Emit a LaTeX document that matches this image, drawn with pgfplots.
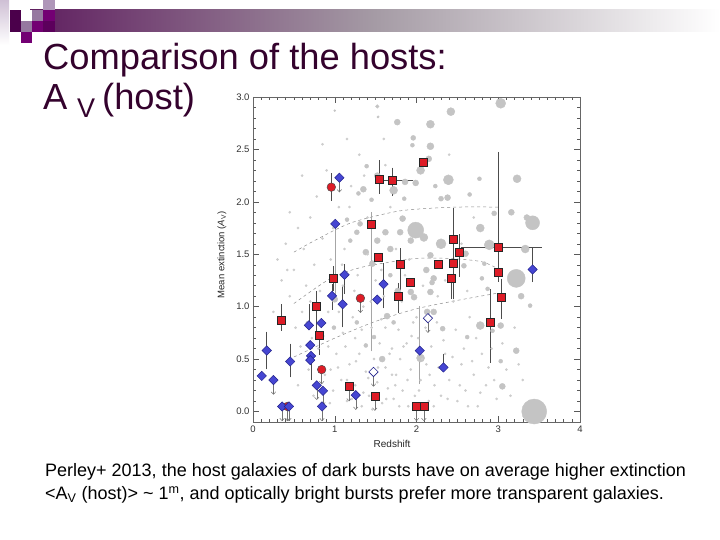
\documentclass[border=0pt]{standalone}
\usepackage{pgfplots}
\usepackage{pgfplotstable}
\pgfplotsset{compat=1.18}
\usepackage{fontspec}
\setmainfont{Liberation Sans}
\usetikzlibrary{arrows.meta}
\definecolor{titlecol}{RGB}{52,2,45}
\definecolor{redfill}{RGB}{222,28,38}
\definecolor{bluefill}{RGB}{70,70,210}
\definecolor{blueedge}{RGB}{35,35,140}
\definecolor{blobgray}{RGB}{196,196,196}
\definecolor{dotgray}{RGB}{205,205,205}
\definecolor{sqA}{RGB}{75,0,75}
\definecolor{sqB}{RGB}{150,120,160}
\definecolor{sqC}{RGB}{115,0,115}
\definecolor{sqD}{RGB}{175,150,185}
\definecolor{sqE}{RGB}{92,0,92}
\definecolor{barL}{RGB}{95,30,95}
\definecolor{barM}{RGB}{165,155,165}

\pgfplotstableread{
x y r
3.44 0.00 12.5
3.22 1.27 9
1.99 1.73 8
3.42 1.80 7
3.03 2.94 5
2.39 2.21 5
2.30 1.60 5
2.89 1.59 5
2.42 2.86 4
2.17 2.74 4
2.05 2.30 4
3.23 2.22 4
1.72 2.11 4
2.78 1.75 4
3.33 1.55 4
2.09 1.66 4
2.78 0.82 4
2.05 0.51 4
2.17 2.53 3.5
1.765 2.76 3
2.15 2.41 3
1.86 2.19 3
1.99 2.18 3
1.35 2.12 3
1.52 2.25 3
2.38 2.04 3
3.16 1.90 3
3.35 1.85 3
1.80 1.71 3
1.83 1.84 3
1.62 1.71 3
1.38 1.52 3
1.46 1.41 3
1.52 1.63 3
1.68 1.55 3
1.93 1.63 3
2.60 1.505 3
3.28 1.10 3
2.17 1.49 3
2.12 1.35 3
2.17 1.14 3
2.21 1.27 3
1.77 1.15 3
1.93 1.14 3
1.58 0.50 3
3.22 0.58 3
3.05 0.24 3
1.64 0.91 3
1.00 1.07 3
1.97 1.09 3
2.21 0.95 3
2.13 0.95 3
3.03 0.82 3
1.96 2.61 2.5
1.95 2.54 2
1.39 2.34 2
1.29 2.08 2
1.45 2.02 2
2.77 2.22 2
2.65 2.07 2
2.23 2.15 2
2.30 2.03 2.5
2.95 1.89 2.5
2.83 1.41 2
2.80 1.27 2
2.87 1.17 2
3.39 1.01 2
2.19 1.23 2.5
1.27 1.71 2.5
1.19 1.63 2
1.15 1.83 2
1.31 1.79 2.5
1.85 2.03 2
1.68 1.30 2
2.58 1.39 2.5
2.32 0.79 2.5
2.62 0.71 2
3.03 0.48 2
2.93 0.77 2
0.99 0.80 2
1.27 0.85 2
1.72 0.85 2
1.48 0.71 2
1.38 0.63 2
1.52 2.91 1.8
1.53 2.81 1.2
1.00 2.87 1.0
}\blobtab

\pgfplotstableread{
x y
0.30 1.45
0.35 1.25
0.40 1.60
0.45 1.10
0.50 1.35
0.55 1.75
0.60 0.95
0.62 1.55
0.65 1.20
0.70 1.85
0.72 0.70
0.75 1.40
0.78 2.05
0.80 0.60
0.82 1.15
0.85 1.65
0.88 0.35
0.90 2.30
0.92 0.95
0.95 1.45
0.98 0.20
1.02 0.55
1.05 1.95
1.08 0.30
1.10 0.75
1.12 1.55
1.15 0.10
1.18 0.45
1.20 2.15
1.22 0.90
1.25 0.25
1.28 1.30
1.30 0.55
1.33 0.05
1.35 1.00
1.38 0.38
1.40 1.85
1.42 0.15
1.45 0.80
1.48 0.50
1.50 1.25
1.52 0.28
1.55 0.65
1.58 0.08
1.60 1.10
1.62 0.42
1.65 0.22
1.68 1.95
1.70 0.60
1.72 0.12
1.75 0.35
1.78 0.78
1.80 0.50
1.83 0.20
1.86 1.30
1.88 0.65
1.90 0.05
1.93 0.40
1.96 0.85
1.98 0.15
2.02 0.70
2.05 0.30
2.08 1.20
2.12 0.45
2.15 0.10
2.18 0.62
2.22 0.25
2.25 0.85
2.30 0.15
2.35 0.55
2.40 0.30
2.45 1.05
2.50 0.10
2.55 0.45
2.60 0.20
2.65 0.90
2.70 0.35
2.75 0.05
2.80 0.55
2.85 0.25
2.92 0.60
2.98 0.12
3.10 0.40
3.20 0.80
3.30 0.30
1.10 1.20
0.68 0.40
0.55 0.25
0.92 0.62
1.40 1.50
1.75 1.55
2.35 1.25
2.55 1.60
2.70 1.85
2.40 2.45
1.60 2.60
1.30 2.45
0.60 2.25
0.45 1.90
0.25 0.95
0.85 2.55
1.15 2.60
1.05 0.95
1.25 0.70
1.62 0.80
2.00 0.90
1.35 0.18
1.70 0.35
0.95 0.40
1.15 0.30
0.58 0.62
0.66 0.85
0.74 0.15
0.86 0.72
0.94 0.08
1.04 0.42
1.13 0.62
1.21 0.12
1.26 0.48
1.33 0.78
1.41 0.32
1.46 0.02
1.53 0.42
1.57 0.88
1.63 0.12
1.67 0.55
1.74 0.25
1.79 0.05
1.84 0.62
1.89 0.30
1.94 0.72
2.03 0.20
2.07 0.50
2.11 0.80
2.16 0.35
2.21 0.05
2.27 0.42
2.33 0.68
2.38 0.12
2.44 0.52
2.48 0.78
2.53 0.25
2.58 0.60
2.63 0.05
2.68 0.48
2.73 0.70
2.78 0.18
2.88 0.42
2.95 0.30
3.05 0.65
3.15 0.15
3.25 0.45
1.09 1.40
1.24 1.15
1.44 1.05
1.57 1.35
1.82 1.05
1.91 1.45
2.26 1.10
2.47 1.30
2.62 1.15
0.70 1.05
0.52 0.80
0.42 1.35
0.98 1.75
1.18 1.95
1.36 2.25
1.62 2.35
}\tinytab

\pgfplotstableread{
x y ep em
0.348 0.872 0.12 0.07
0.78 1.00 0.12 0.20
0.807 0.73 0 0.16
0.979 1.266 0.09 0.09
1.55 2.218 0.15 0.11
1.777 1.096 0.10 0.13
1.80 1.406 0.12 0.22
2.43 1.275 0 0.17
2.453 1.64 0.27 0.54
2.527 1.518 0.14 0.20
2.90 0.847 0.29 0.35
3.04 1.086 0.15 0.17
0.958 2.14 0.10 0.10
0.168 0.582 0.15 0.15
0.455 0.477 0.14 0.12
0.684 0.822 0.17 0
0.71 0.53 0 0.20
0.967 1.103 0.08 0.10
1.097 1.023 0.14 0.19
1.12 1.304 0.07 0.15
1.597 1.215 0.17 0.20
2.33 0.42 0.10 0
3.42 1.355 0.18 0.09
}\errtab

\pgfplotstableread{
x y exp exm ep em
1.70 2.205 0.22 0.08 0.09 0.12
3.00 1.566 0.49 0.42 0.88 0.30
}\xerrtab

\pgfplotstableread{
x y ep em
1.446 1.783 0.09 1.18
1.007 1.79 0 0.69
2.04 0.58 0.40 0.29
}\grayerrtab

\pgfplotstableread{
x y
1.175 0.217
1.49 0.127
2.00 0.028
2.09 0.028
1.314 1.06
0.84 0.38
0.42 0.028
0.25 0.28
0.356 0.028
0.44 0.028
0.78 0.23
0.856 0.178
0.844 0.028
1.057 2.21
1.257 0.136
1.474 0.357
2.14 0.87
}\limtab

\begin{document}
\begin{tikzpicture}[x=1pt,y=1pt]
\useasboundingbox (0,0) rectangle (720,540);
\fill[white] (0,0) rectangle (720,540);
% top decoration
\shade[left color=barL, right color=white, middle color=barM] (30,508) rectangle (720,530);
\shade[top color=sqD!60, bottom color=white] (0,495) rectangle (9,540);
\fill[sqA] (10,508) rectangle (21,519);
\fill[sqB] (32,519) rectangle (43,530);
\fill[sqC] (43,519) rectangle (55,530);
\fill[sqD] (43,530) rectangle (55,540);
\fill[sqB] (21,508) rectangle (32,519);
\fill[sqC] (32,508) rectangle (43,519);
\fill[sqE] (43,508) rectangle (55,519);
\fill[sqC] (21,497) rectangle (32,508);
\fill[sqA] (10,519) rectangle (21,530);
\fill[white] (21,519) rectangle (32,530);
% title
\node[anchor=base west, inner sep=0, font=\fontsize{36.3}{42}\selectfont, text=titlecol] at (43,470) {Comparison of the hosts:};
\node[anchor=base west, inner sep=0, font=\fontsize{36.3}{42}\selectfont, text=titlecol] at (43,430) {A};
\node[anchor=base west, inner sep=0, font=\fontsize{27}{32}\selectfont, text=titlecol] at (77,422) {V};
\node[anchor=base west, inner sep=0, font=\fontsize{36.3}{42}\selectfont, text=titlecol] at (102,430) {(host)};
% caption
\node[anchor=base west, inner sep=0, font=\fontsize{18}{21}\selectfont] at (45,63) {Perley+ 2013, the host galaxies of dark bursts have on average higher extinction};
\node[anchor=base west, inner sep=0, font=\fontsize{18}{21}\selectfont] at (45,40) {<A\textsubscript{V} (host)> \textasciitilde{} 1\textsuperscript{m}, and optically bright bursts prefer more transparent galaxies.};
% axis labels
\node[rotate=90, font=\fontsize{9.5}{11}\selectfont, text=black!85] at (222,285) {Mean extinction (\textit{A}\textsubscript{V})};
\node[font=\fontsize{10}{12}\selectfont, text=black!85] at (392,96) {Redshift};
\begin{axis}[
  at={(253pt,118pt)}, anchor=south west,
  width=327pt, height=325pt, scale only axis,
  xmin=0, xmax=4, ymin=-0.1, ymax=3.0,
  xtick={0,1,2,3,4}, ytick={0,0.5,1,1.5,2,2.5,3},
  minor x tick num=9, minor y tick num=4,
  tick align=inside,
  major tick length=6pt, minor tick length=3pt,
  axis line style={black!60, line width=0.5pt},
  tick style={black!65, line width=0.45pt},
  ticklabel style={font=\fontsize{9.5}{11}\selectfont, text=black!80},
  yticklabel style={/pgf/number format/fixed, /pgf/number format/fixed zerofill, /pgf/number format/precision=1},
  /pgf/number format/assume math mode=true,
]
% background galaxies
\addplot[scatter, only marks, mark=*, point meta=0,
  scatter/use mapped color={draw=blobgray, fill=blobgray},
  visualization depends on={\thisrow{r} \as \perpointmarksize},
  scatter/@pre marker code/.append style={/tikz/mark size=\perpointmarksize}]
  table[x=x, y=y] {\blobtab};
\addplot[only marks, mark=*, mark size=1.1pt, draw=dotgray, fill=dotgray] table[x=x,y=y] {\tinytab};
% dashed curves
\addplot[black!45, dashed, line width=0.5pt, smooth] coordinates {(0.5,1.52)(0.8,1.65)(1.2,1.80)(1.7,1.90)(2.0,1.93)(2.5,1.95)(3.0,1.95)};
\addplot[black!45, dashed, line width=0.5pt, smooth] coordinates {(0.5,1.03)(0.95,1.27)(1.3,1.37)(1.64,1.42)(2.0,1.46)(2.4,1.46)(2.79,1.43)(3.0,1.36)};
\addplot[black!45, dashed, line width=0.5pt, smooth] coordinates {(0.5,0.52)(1.0,0.70)(1.5,0.86)(2.0,0.98)(2.5,1.06)(3.0,1.13)};
% gray error bars
\addplot[only marks, mark=*, mark size=0.01pt, black!35,
  error bars/.cd, y dir=both, y explicit,
  error bar style={black!35, line width=0.6pt},
  error mark options={black!35, mark size=3pt, line width=0.6pt}]
  table[x=x, y=y, y error plus=ep, y error minus=em] {\grayerrtab};
% dark error bars
\addplot[only marks, mark=*, mark size=0.01pt, black!70,
  error bars/.cd, y dir=both, y explicit,
  error bar style={black!70, line width=0.6pt},
  error mark options={black!70, mark size=3.2pt, line width=0.6pt}]
  table[x=x, y=y, y error plus=ep, y error minus=em] {\errtab};
\addplot[only marks, mark=*, mark size=0.01pt, black!70,
  error bars/.cd, y dir=both, y explicit, x dir=both, x explicit,
  error bar style={black!70, line width=0.6pt},
  error mark options={black!70, mark size=3.2pt, line width=0.6pt}]
  table[x=x, y=y, x error plus=exp, x error minus=exm, y error plus=ep, y error minus=em] {\xerrtab};
% upper limit arrows
\addplot[black!55, line width=0.5pt, quiver={u=0, v=-0.12}, -{Straight Barb[length=2.5pt, width=4.5pt]}]
  table[x=x, y=y] {\limtab};
% red squares
\addplot[only marks, mark=square*, mark size=4pt, mark options={fill=redfill, draw=black!85, line width=0.6pt}] coordinates {
(0.348,0.872)(0.78,1.00)(0.807,0.73)(0.979,1.266)(1.175,0.237)(1.446,1.783)(1.49,0.147)(1.532,1.473)
(1.55,2.218)(1.70,2.205)(1.777,1.096)(1.80,1.406)(1.92,1.237)(2.00,0.048)(2.085,2.375)(2.09,0.048)
(2.264,1.40)(2.43,1.275)(2.453,1.64)(2.453,1.41)(2.527,1.518)(2.90,0.847)(3.00,1.566)(3.00,1.33)(3.04,1.086)};
% red circles
\addplot[only marks, mark=*, mark size=4.3pt, mark options={fill=redfill, draw=black!70, line width=0.5pt}] coordinates {
(0.958,2.14)(1.314,1.08)(0.84,0.40)(0.42,0.048)};
% blue diamonds
\addplot[only marks, mark=square*, mark size=3.3pt, mark options={rotate=45, fill=bluefill, draw=blueedge, line width=0.5pt}] coordinates {
(0.107,0.339)(0.168,0.582)(0.25,0.30)(0.356,0.048)(0.44,0.048)(0.455,0.477)(0.684,0.822)(0.70,0.633)
(0.71,0.53)(0.70,0.49)(0.835,0.844)(0.78,0.25)(0.856,0.198)(0.844,0.048)(0.967,1.103)(1.007,1.79)
(1.057,2.23)(1.097,1.023)(1.12,1.304)(1.257,0.156)(1.52,1.067)(1.597,1.215)(2.04,0.58)(2.33,0.42)(3.42,1.355)};
% open diamonds
\addplot[only marks, mark=square*, mark size=3.3pt, mark options={rotate=45, fill=white, draw=blueedge, line width=0.6pt}] coordinates {
(1.474,0.377)(2.14,0.89)};
\end{axis}
\end{tikzpicture}
\end{document}
